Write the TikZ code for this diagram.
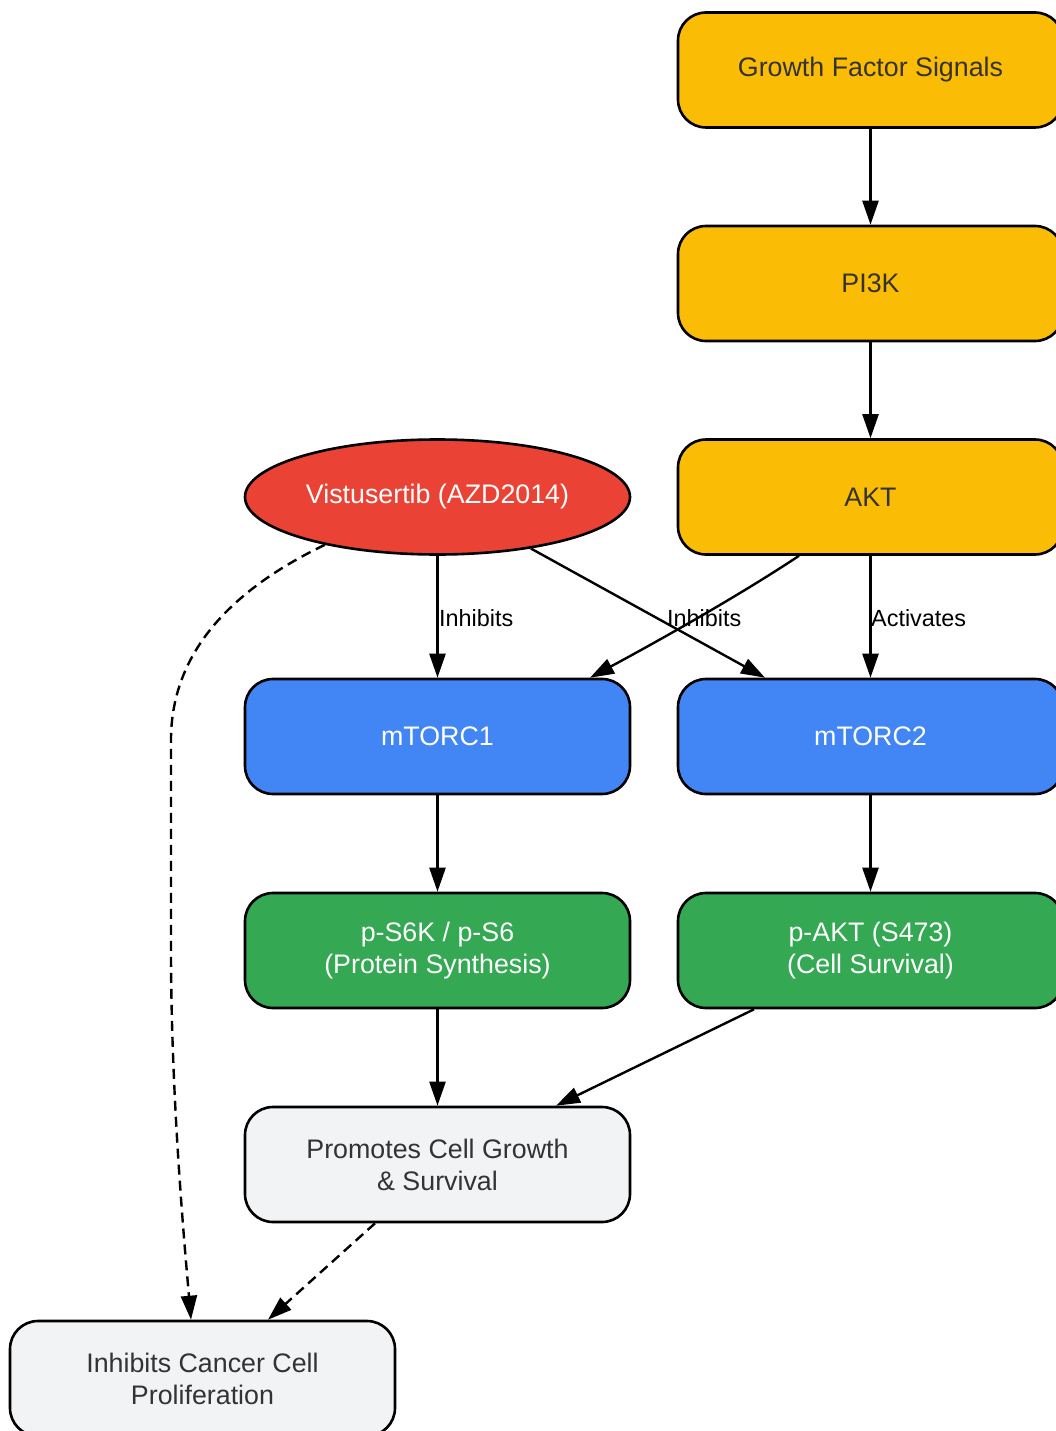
\documentclass[tikz,border=0pt]{standalone}
\usepackage{fontspec}
\setmainfont{Liberation Sans}
\usetikzlibrary{arrows.meta,shapes.geometric}
\definecolor{gyellow}{HTML}{FBBC05}
\definecolor{gblue}{HTML}{4285F4}
\definecolor{gred}{HTML}{EA4335}
\definecolor{ggreen}{HTML}{34A853}
\definecolor{ggrey}{HTML}{F1F3F4}
\definecolor{darktext}{HTML}{333333}
\tikzset{
  box/.style={draw=black, line width=2.6pt, rounded corners=28pt, minimum width=385pt, minimum height=115pt,
    inner sep=0pt, align=center, font=\fontsize{26.8}{32}\selectfont},
  ybox/.style={box, fill=gyellow, text=darktext},
  bbox/.style={box, fill=gblue, text=white},
  gbox/.style={box, fill=ggreen, text=white},
  wbox/.style={box, fill=ggrey, text=darktext},
  drug/.style={ellipse, draw=black, line width=2.6pt, fill=gred, text=white, minimum width=385pt,
    minimum height=115pt, inner sep=0pt, font=\fontsize{26.8}{32}\selectfont},
  conn/.style={line width=2.4pt, -{Triangle[length=24pt,width=16pt]}},
  dconn/.style={conn, dash pattern=on 10pt off 6pt},
  elabel/.style={anchor=west, inner sep=0pt, font=\fontsize{23.4}{28}\selectfont, text=black}
}
\begin{document}
\begin{tikzpicture}[x=1pt,y=-1pt]
\useasboundingbox (0,0) rectangle (1055,1431);
\node[ybox] (gfs) at (870.5,70) {Growth Factor Signals};
\node[ybox] (pi3k) at (870.5,283.5) {PI3K};
\node[ybox] (akt) at (870.5,497) {AKT};
\node[drug] (vis) at (437.5,497) {Vistusertib (AZD2014)};
\node[bbox] (m1) at (437.5,736.5) {mTORC1};
\node[bbox] (m2) at (870.5,736.5) {mTORC2};
\node[gbox] (ps6) at (437.5,950.5) {p-S6K / p-S6\\(Protein Synthesis)};
\node[gbox] (pakt) at (870.5,950.5) {p-AKT (S473)\\(Cell Survival)};
\node[wbox] (promo) at (437.5,1164.5) {Promotes Cell Growth\\\& Survival};
\node[wbox] (inh) at (202.5,1378.5) {Inhibits Cancer Cell\\Proliferation};

\draw[conn] (gfs) -- (pi3k);
\draw[conn] (pi3k) -- (akt);
\draw[conn] (vis) -- (m1);
\draw[conn] (vis) -- ([xshift=-105.5]m2.north);
\draw[conn] ([xshift=-71.5]akt.south) .. controls (740,595) and (660,640) .. ([xshift=152.5]m1.north);
\draw[conn] (akt) -- (m2);
\draw[conn] (m1) -- (ps6);
\draw[conn] (m2) -- (pakt);
\draw[conn] (ps6) -- (promo);
\draw[conn] ([xshift=-116.5]pakt.south) -- ([xshift=118.5]promo.north);
\draw[dconn] (vis.203) .. controls (235,588) and (171,650) .. (171,740) -- (171,950)
  .. controls (171,1100) and (185,1250) .. ([xshift=-11.5]inh.north);
\draw[dconn] ([xshift=-62.5]promo.south) -- ([xshift=65.5]inh.north);

\node[elabel] (l1) at (439,618) {Inhibits};
\node[elabel] (l2) at (667,618) {Inhibits};
\node[elabel] (l3) at (871,618) {Activates};
\end{tikzpicture}
\end{document}
